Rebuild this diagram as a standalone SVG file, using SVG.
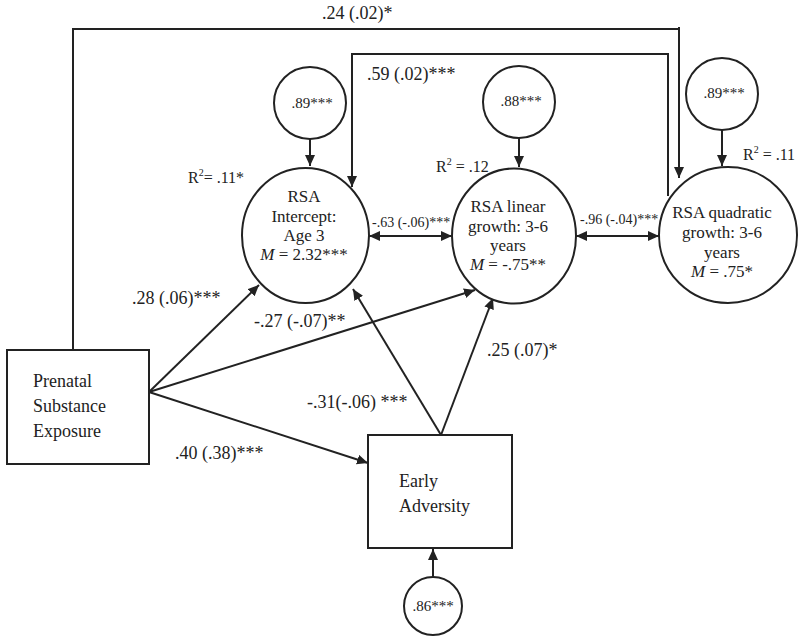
<svg xmlns="http://www.w3.org/2000/svg" width="800" height="641" viewBox="0 0 800 641">
<style>
text{font-family:"Liberation Serif","Times New Roman",serif;fill:#222}
.shape{fill:#fff;stroke:#222;stroke-width:2}
.c{fill:none;stroke:#222;stroke-width:2}
.lbl{font-size:18px}
.sm{font-size:14px}
.res{font-size:15px}
.r2{font-size:16px}
.node{font-size:17px;text-anchor:middle}
</style>
<defs>
<marker id="ah" markerUnits="userSpaceOnUse" markerWidth="12" markerHeight="10" refX="11" refY="5" orient="auto-start-reverse">
<path d="M0,0 L11,5 L0,10 z" fill="#222"/>
</marker>
</defs>
<rect width="800" height="641" fill="#fff"/>
<g id="connectors">
<path class="c" d="M73,350 V29 H680 M679,27 V178" marker-end="url(#ah)"/>
<path class="c" d="M668,196 V54 H352 V187" marker-end="url(#ah)"/>
<line class="c" x1="310" y1="139" x2="310" y2="166" marker-end="url(#ah)"/>
<line class="c" x1="519" y1="138" x2="519" y2="167" marker-end="url(#ah)"/>
<line class="c" x1="722" y1="130" x2="722" y2="166" marker-end="url(#ah)"/>
<line class="c" x1="433" y1="577" x2="433" y2="549" marker-end="url(#ah)"/>
<line class="c" x1="369" y1="236" x2="452" y2="236" marker-start="url(#ah)" marker-end="url(#ah)"/>
<line class="c" x1="576" y1="236" x2="659" y2="236" marker-start="url(#ah)" marker-end="url(#ah)"/>
<line class="c" x1="149" y1="392" x2="259" y2="285" marker-end="url(#ah)"/>
<line class="c" x1="149" y1="392" x2="475" y2="290" marker-end="url(#ah)"/>
<line class="c" x1="149" y1="392" x2="368" y2="463" marker-end="url(#ah)"/>
<line class="c" x1="441" y1="435" x2="353" y2="289" marker-end="url(#ah)"/>
<line class="c" x1="441" y1="435" x2="493" y2="298" marker-end="url(#ah)"/>
<text class="lbl" x="322" y="19">.24 (.02)*</text>
<text class="lbl" x="367" y="80">.59 (.02)***</text>
<text class="sm" x="372" y="227">-.63 (-.06)***</text>
<text class="sm" x="580" y="224">-.96 (-.04)***</text>
<text class="lbl" x="132" y="304">.28 (.06)***</text>
<text class="lbl" x="254" y="327">-.27 (-.07)**</text>
<text class="lbl" x="487" y="356">.25 (.07)*</text>
<text class="lbl" x="307" y="408">-.31(-.06) ***</text>
<text class="lbl" x="175" y="459">.40 (.38)***</text>
</g>
<g id="res-intercept">
<circle class="shape" cx="310" cy="103" r="36"/>
<text class="res" x="312" y="108" text-anchor="middle">.89***</text>
</g>
<g id="res-linear">
<circle class="shape" cx="519" cy="102" r="36"/>
<text class="res" x="521" y="106" text-anchor="middle">.88***</text>
</g>
<g id="res-quadratic">
<circle class="shape" cx="722" cy="94" r="36"/>
<text class="res" x="724" y="98" text-anchor="middle">.89***</text>
</g>
<g id="res-adversity">
<circle class="shape" cx="433" cy="606" r="29"/>
<text class="res" x="433" y="611" text-anchor="middle">.86***</text>
</g>
<g id="intercept">
<ellipse class="shape" cx="305.5" cy="235.5" rx="63.5" ry="67.5"/>
<text class="node" x="304" y="202">RSA</text>
<text class="node" x="304" y="222">Intercept:</text>
<text class="node" x="304" y="241">Age 3</text>
<text class="node" x="304" y="260"><tspan font-style="italic">M</tspan> = 2.32***</text>
<text class="r2" x="188" y="183">R<tspan font-size="10" dy="-7">2</tspan><tspan dy="7">= .11*</tspan></text>
</g>
<g id="linear">
<ellipse class="shape" cx="514" cy="236" rx="62" ry="67.5"/>
<text class="node" x="508" y="212">RSA linear</text>
<text class="node" x="508" y="232">growth: 3-6</text>
<text class="node" x="508" y="251">years</text>
<text class="node" x="508" y="270"><tspan font-style="italic">M</tspan> = -.75**</text>
<text class="r2" x="436" y="172">R<tspan font-size="10" dy="-7">2</tspan><tspan dy="7"> = .12</tspan></text>
</g>
<g id="quadratic">
<ellipse class="shape" cx="728" cy="235" rx="69" ry="68"/>
<text class="node" x="722" y="218">RSA quadratic</text>
<text class="node" x="722" y="238">growth: 3-6</text>
<text class="node" x="722" y="258">years</text>
<text class="node" x="722" y="277"><tspan font-style="italic">M</tspan> = .75*</text>
<text class="r2" x="743" y="160">R<tspan font-size="10" dy="-7">2</tspan><tspan dy="7"> = .11</tspan></text>
</g>
<g id="prenatal">
<rect class="shape" x="7" y="350" width="142" height="114"/>
<text class="lbl" x="33" y="387">Prenatal</text>
<text class="lbl" x="33" y="412">Substance</text>
<text class="lbl" x="33" y="437">Exposure</text>
</g>
<g id="adversity">
<rect class="shape" x="368" y="435" width="144" height="113"/>
<text class="lbl" x="399" y="487">Early</text>
<text class="lbl" x="399" y="512">Adversity</text>
</g>
</svg>
